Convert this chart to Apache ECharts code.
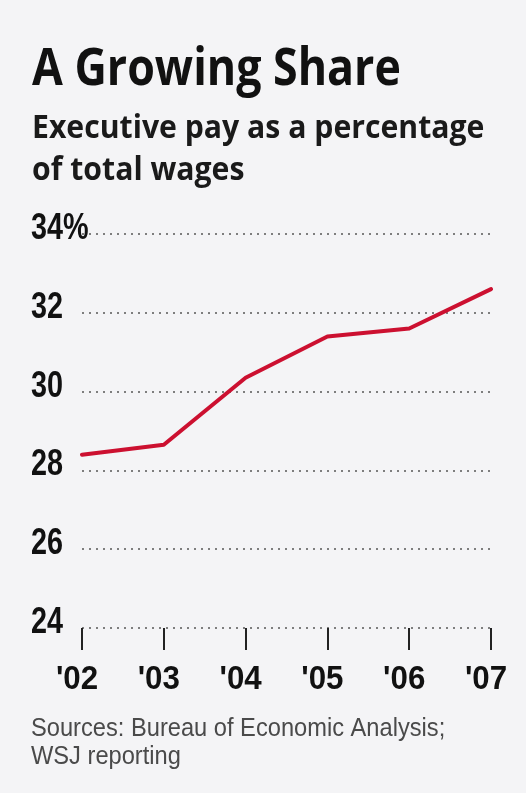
<!DOCTYPE html>
<html>
<head>
<meta charset="utf-8">
<script src="https://cdn.jsdelivr.net/npm/echarts@6/dist/echarts.min.js"></script>
<style>
  html, body { margin: 0; padding: 0; background: #f4f4f6; }
  #chart { width: 526px; height: 793px; }
</style>
</head>
<body>
<div id="chart"></div>
<script>
// Executive pay as a share of total wages, 2002-2007
const years = ["'02", "'03", "'04", "'05", "'06", "'07"];
const execShare = [28.4, 28.65, 30.35, 31.4, 31.6, 32.6];
const yTicks = [24, 26, 28, 30, 32, 34];
const yMin = 24;
const yMax = 34;
const yStep = 2;

const titleText = 'A Growing Share';
const subtitleLines = ['Executive pay as a percentage', 'of total wages'];
const sourceLines = ['Sources: Bureau of Economic Analysis;', 'WSJ reporting'];

const headFont = '"Open Sans", "Noto Sans", sans-serif';
const bodyFont = '"Liberation Sans", Arial, sans-serif';

const chart = echarts.init(document.getElementById('chart'), null, { renderer: 'canvas' });

const baseOption = {
  backgroundColor: '#f4f4f6',
  animation: false,
  grid: { left: 82, right: 35, top: 234, bottom: 793 - 628, containLabel: false },
  xAxis: {
    type: 'category',
    data: years,
    boundaryGap: false,
    axisLine: { show: false },
    axisTick: { show: true, alignWithLabel: true, length: 22, lineStyle: { color: '#222', width: 2 } },
    axisLabel: { show: false }
  },
  yAxis: {
    type: 'value',
    min: yMin, max: yMax, interval: yStep,
    axisLine: { show: false },
    axisTick: { show: false },
    axisLabel: { show: false },
    splitLine: { show: true, lineStyle: { color: '#7e7e7e', type: [2, 5], width: 2 } }
  },
  series: [{
    type: 'line',
    data: execShare,
    symbol: 'none',
    lineStyle: { color: '#cc1030', width: 4, join: 'round', cap: 'round' }
  }]
};
chart.setOption(baseOption);

// Condensed text: regular fonts squeezed horizontally with scaleX
function txt(text, x, y, opt) {
  return {
    type: 'text', x: x, y: y, scaleX: opt.sx || 1, silent: true,
    style: {
      text: text, fill: opt.color || '#111',
      fontFamily: opt.family, fontWeight: opt.weight || 400, fontSize: opt.size,
      align: opt.align || 'left', verticalAlign: 'middle'
    }
  };
}

const elements = [];
elements.push(txt(titleText, 32, 70, { family: headFont, weight: 700, size: 52, sx: 0.86 }));
subtitleLines.forEach((line, i) => {
  elements.push(txt(line, 32, 129 + i * 42, { family: headFont, weight: 700, size: 33, sx: 0.915, color: '#1a1a1a' }));
});
yTicks.forEach(v => {
  const py = chart.convertToPixel({ yAxisIndex: 0 }, v);
  const label = v === yMax ? v + '%' : String(v);
  elements.push(txt(label, 31, py - 5, { family: bodyFont, weight: 700, size: 36, sx: 0.8 }));
});
years.forEach((y, i) => {
  const px = chart.convertToPixel({ xAxisIndex: 0 }, i);
  elements.push(txt(y, px - 5, 680, { family: bodyFont, weight: 700, size: 34, sx: 0.92, align: 'center' }));
});
sourceLines.forEach((line, i) => {
  elements.push(txt(line, 31, 729 + i * 28, { family: bodyFont, weight: 400, size: 26, sx: 0.91, color: '#4a4a4a' }));
});

chart.setOption({ graphic: { elements: elements } });
</script>
</body>
</html>
